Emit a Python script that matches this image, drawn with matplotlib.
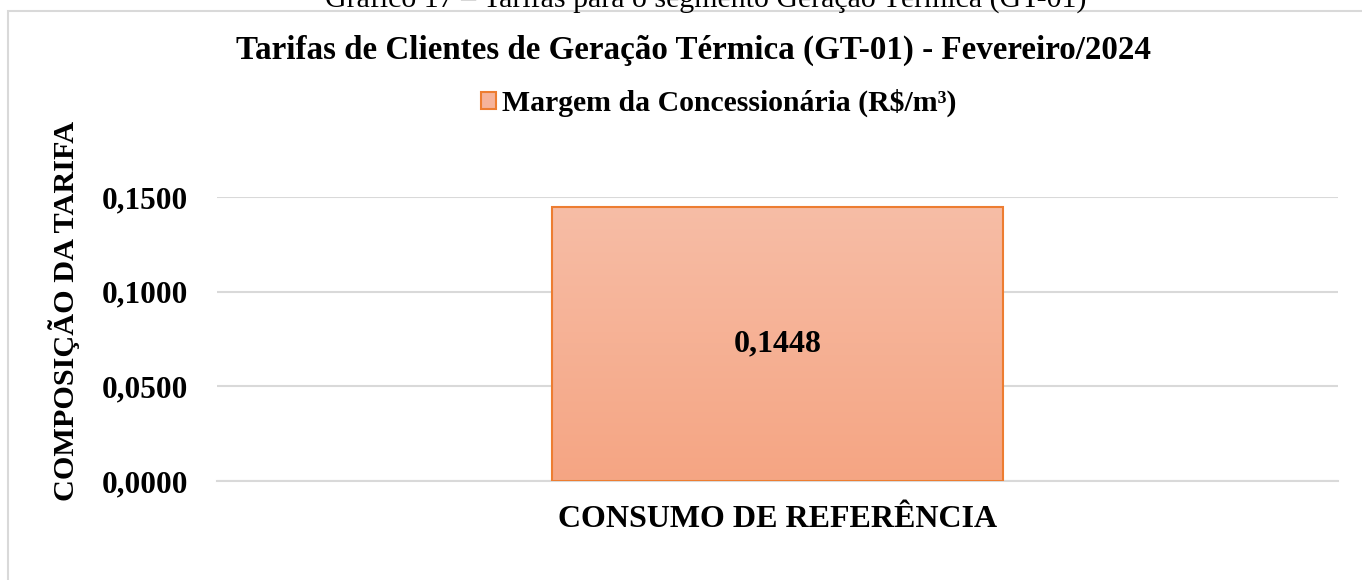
import numpy as np
import matplotlib
matplotlib.use('Agg')
import matplotlib.pyplot as plt
from matplotlib.patches import Rectangle

plt.rcParams['font.family'] = ['Liberation Serif', 'DejaVu Serif']

# data
categories = ['CONSUMO DE REFERÊNCIA']
values = [0.1448]
series_name = 'Margem da Concessionária (R$/m³)'
yticks = [0.0, 0.05, 0.10, 0.15]
ytick_labels = ['0,0000', '0,0500', '0,1000', '0,1500']
value_labels = ['0,1448']
title = 'Tarifas de Clientes de Geração Térmica (GT-01) - Fevereiro/2024'
caption = 'Gráfico 17 – Tarifas para o segmento Geração Térmica (GT-01)'

W, H = 1362, 580
fig = plt.figure(figsize=(W / 100, H / 100), dpi=100)
ax = fig.add_axes([217 / W, 1 - 481 / H, (1338 - 217) / W, (481 - 197) / H])

# outer chart frame
fig.patches.append(Rectangle((8 / W, -0.01), 1.0, 1 - 11 / H + 0.01,
                             transform=fig.transFigure, fill=False,
                             edgecolor='#d9d9d9', linewidth=1.5))

x = np.arange(len(categories))
bars = ax.bar(x, values, width=0.402, facecolor='none', edgecolor='#ED7D31',
              linewidth=1.5, zorder=3, label=series_name)

# vertical gradient fill inside the bars
grad = np.linspace(0, 1, 256).reshape(-1, 1)
top_c = np.array([247, 189, 166]) / 255
bot_c = np.array([245, 165, 131]) / 255
img = top_c * (1 - grad[..., None]) + bot_c * grad[..., None]
for b in bars:
    x0, y0, bw, bh = b.get_x(), b.get_y(), b.get_width(), b.get_height()
    ax.imshow(img, extent=(x0, x0 + bw, y0, y0 + bh), aspect='auto', zorder=2)

for b, lab in zip(bars, value_labels):
    ax.text(b.get_x() + b.get_width() / 2, b.get_height() / 2, lab,
            ha='center', va='center', fontsize=23, fontweight='bold', zorder=4)

ax.set_xlim(-0.5, 0.5)
ax.set_ylim(0, 0.15)
ax.set_yticks(yticks)
ax.set_yticklabels(ytick_labels, fontsize=22.5, fontweight='bold')
ax.set_xticks(x)
ax.set_xticklabels(categories, fontsize=23, fontweight='bold')
ax.tick_params(axis='y', length=0, pad=21)
ax.tick_params(axis='x', length=0, pad=17)
ax.yaxis.grid(True, color='#d9d9d9', linewidth=1.5, zorder=0)
ax.set_axisbelow(True)
for s in ax.spines.values():
    s.set_visible(False)
ax.spines['bottom'].set_visible(True)
ax.spines['bottom'].set_color('#d9d9d9')
ax.spines['bottom'].set_linewidth(1.5)

fig.text(64 / W, 1 - 311 / H, 'COMPOSIÇÃO DA TARIFA', rotation=90,
         ha='center', va='center', fontsize=21.8, fontweight='bold')
fig.text(694 / W, 1 - 50 / H, title, ha='center', va='center',
         fontsize=23.8, fontweight='bold')
fig.text(706 / W, 1 - 7 / H, caption, ha='center', va='baseline', fontsize=21.5)

leg_patch = Rectangle((0, 0), 1, 1, facecolor='#F6B39A', edgecolor='#ED7D31',
                      linewidth=1.5)
fig.legend([leg_patch], [series_name], loc='center', bbox_to_anchor=(719 / W, 1 - 103 / H),
           frameon=False, prop={'size': 21.4, 'weight': 'bold'},
           handlelength=0.5, handleheight=0.5, handletextpad=0.2)

fig.savefig('out.png', dpi=100)
